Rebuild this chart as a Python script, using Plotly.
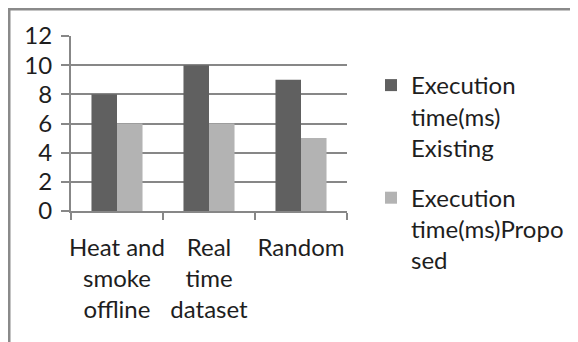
import plotly.graph_objects as go

categories = ["Heat and<br>smoke<br>offline", "Real<br>time<br>dataset", "Random"]
existing = [8, 10, 9]
proposed = [6, 6, 5]
series_names = ["Execution<br>time(ms)<br>Existing", "Execution<br>time(ms)Propo<br>sed"]
y_ticks = [0, 2, 4, 6, 8, 10, 12]

# page has an 8px body margin; figure is drawn at (8, 8)
OFF = 8
W, H = 578 - OFF, 342 - OFF
# plot area in page pixels: x 71..347, y 36..211
L, R, T, B = 71 - OFF, W - (347 - OFF), 36 - OFF, H - (211 - OFF)
pw, ph = W - L - R, H - T - B

def px_x(x_page):
    return (x_page - OFF - L) / pw

def px_y(y_page):
    return (H - B - (y_page - OFF)) / ph

FONT = "Lato"
grid = "#878787"

fig = go.Figure()
fig.add_trace(go.Bar(x=categories, y=existing, name=series_names[0],
                     marker=dict(color="#606060", line=dict(width=0)), legendgroup="a"))
fig.add_trace(go.Bar(x=categories, y=proposed, name=series_names[1],
                     marker=dict(color="#b3b3b3", line=dict(width=0)), legendgroup="b"))

fig.update_layout(
    width=W, height=H,
    margin=dict(l=L, r=R, t=T, b=B, autoexpand=False),
    paper_bgcolor="white", plot_bgcolor="white",
    barmode="group", bargap=0.445, bargroupgap=0,
    font=dict(family=FONT, size=24, color="#1e1e1e"),
    showlegend=True,
    legend=dict(x=px_x(371), y=px_y(63), xanchor="left", yanchor="top",
                valign="top", maxheight=320,
                font=dict(family=FONT, size=24, color="#1e1e1e"),
                tracegroupgap=16, bgcolor="rgba(0,0,0,0)"),
    xaxis=dict(showline=True, linecolor=grid, linewidth=2, automargin=False, tickangle=0,
               ticks="outside", tickson="boundaries", ticklen=7, tickwidth=2, tickcolor=grid,
               showgrid=False, ticklabelstandoff=14,
               tickfont=dict(family=FONT, size=24, color="#1e1e1e")),
    yaxis=dict(range=[0, 12], tickvals=y_ticks, showline=True, linecolor=grid, linewidth=2,
               automargin=False,
               ticks="outside", ticklen=8, tickwidth=2, tickcolor=grid,
               showgrid=True, gridcolor=grid, gridwidth=2, zeroline=False,
               ticklabelstandoff=4,
               tickfont=dict(family=FONT, size=24, color="#1e1e1e")),
    shapes=[
        dict(type="line", xref="paper", yref="paper", x0=px_x(8), x1=px_x(578), y0=px_y(9), y1=px_y(9),
             line=dict(color="#8a8a8a", width=3)),
        dict(type="line", xref="paper", yref="paper", x0=px_x(9), x1=px_x(9), y0=px_y(8), y1=px_y(342),
             line=dict(color="#8a8a8a", width=3)),
    ],
)

fig.write_html("out.html")
